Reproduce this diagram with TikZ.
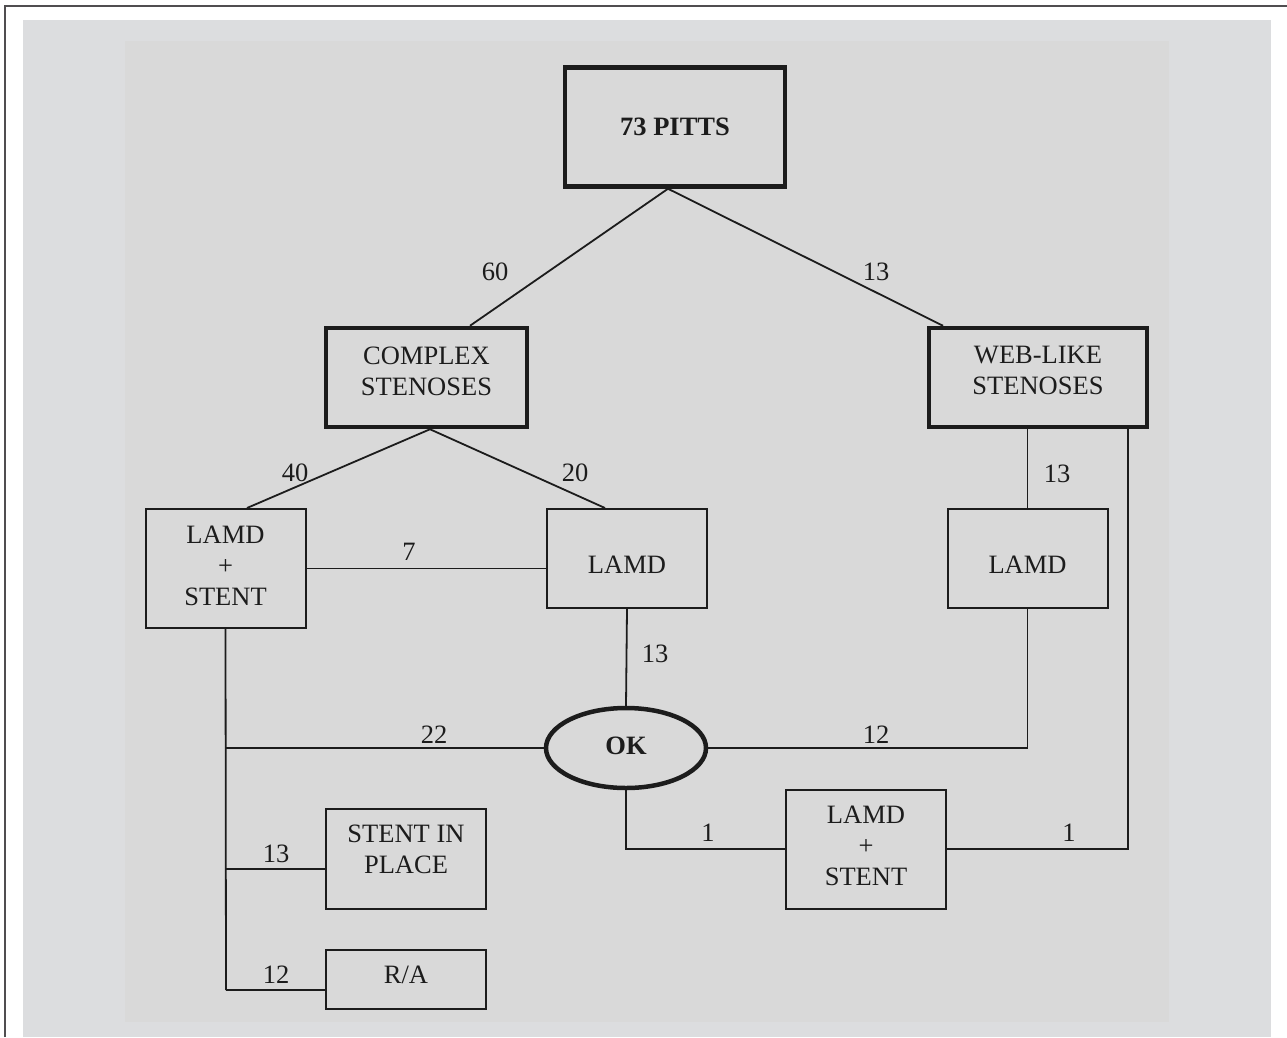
\documentclass[tikz,border=0pt]{standalone}
\usepackage{fontspec}
\setmainfont{Liberation Serif}
\usetikzlibrary{shapes.geometric,calc}
\definecolor{bgout}{RGB}{220,221,223}
\definecolor{bgin}{RGB}{217,217,217}
\definecolor{ink}{RGB}{28,28,28}
\definecolor{framec}{RGB}{80,78,80}
\begin{document}
\begin{tikzpicture}[x=1pt,y=-1pt,
  every node/.style={font=\fontsize{26.5}{31}\selectfont, text=ink},
  plainbox/.style={draw=ink, line width=2pt, inner sep=0pt, align=center, minimum width=160pt},
  heavybox/.style={draw=ink, line width=4.5pt, inner sep=0pt, align=center},
  boxtext/.style={inner sep=0pt, align=center},
  conn/.style={draw=ink, line width=1.8pt},
  lbl/.style={inner sep=0pt}]
\useasboundingbox (0,0) rectangle (1287,1037);
\fill[white] (0,0) rectangle (1287,1037);
\fill[bgout] (23,20) rectangle (1271,1037);
\fill[bgin] (125,41) rectangle (1169,1022);
\draw[line width=2pt, framec] (4.5,1037) -- (4.5,6) -- (1287,6);

% nodes
\node[heavybox, minimum width=220pt, minimum height=119pt] (pitts) at (675,127) {\textbf{73 PITTS}};
\node[heavybox, minimum width=201pt, minimum height=99pt,
  label={[boxtext, yshift=6.5pt]center:{COMPLEX\\STENOSES}}] (complex) at (426.5,377.5) {};
\node[heavybox, minimum width=218pt, minimum height=99pt,
  label={[boxtext, yshift=7pt]center:{WEB-LIKE\\STENOSES}}] (web) at (1038,377.5) {};
\node[plainbox, minimum height=119pt,
  label={[boxtext, yshift=3pt]center:{LAMD\\+\\STENT}}] (ls1) at (225.5,568.5) {};
\node[plainbox, minimum height=99pt,
  label={[boxtext, yshift=-6.5pt]center:LAMD}] (lamd1) at (627,558.5) {};
\node[plainbox, minimum height=99pt,
  label={[boxtext, yshift=-6.5pt]center:LAMD}] (lamd2) at (1027.5,558.5) {};
\node[draw=ink, line width=4.5pt, ellipse, inner sep=0pt, minimum width=160pt, minimum height=80pt,
  label={[boxtext, yshift=2.5pt]center:\textbf{OK}}] (ok) at (626,748) {};
\node[plainbox, minimum height=119pt,
  label={[boxtext, yshift=3.5pt]center:{LAMD\\+\\STENT}}] (ls2) at (866,849) {};
\node[plainbox, minimum height=100pt,
  label={[boxtext, yshift=9.5pt]center:{STENT IN\\PLACE}}] (sip) at (406,859) {};
\node[plainbox, minimum height=59pt,
  label={[boxtext, yshift=4.5pt]center:R/A}] (ra) at (406,979.5) {};

% junction coordinates
\coordinate (ptop) at ([xshift=-7pt]pitts.south);
\coordinate (cbot) at ([xshift=3.5pt]complex.south);
\coordinate (j1) at (ls1.south |- ok.west);
\coordinate (j2) at (226,869);
\coordinate (j3) at (226,990);
\coordinate (wr) at (1128,428);

% connectors
\draw[conn] (ptop) -- ([xshift=43.5pt]complex.north);
\draw[conn] (ptop) -- ([xshift=-95pt]web.north);
\draw[conn] (cbot) -- ([xshift=21.5pt]ls1.north);
\draw[conn] (cbot) -- ([xshift=-22pt]lamd1.north);
\draw[conn] (lamd2.north |- web.south) -- (lamd2.north);
\draw[conn] (ls1.east) -- (ls1.east -| lamd1.west);
\draw[conn] (lamd1.south) -- (ok.north);
\draw[conn] (ls1.south) -- (j3);
\draw[conn] (j1) -- (ok.west);
\draw[conn] (j2) -- (j2 -| sip.west);
\draw[conn] (j3) -- (j3 -| ra.west);
\draw[conn] (lamd2.south) |- (ok.east);
\draw[conn] (ok.south) |- (ls2.west);
\draw[conn] (wr) |- (ls2.east);

% labels
\node[lbl] (l60) at (495,272) {60};
\node[lbl] (l13a) at (876,272) {13};
\node[lbl] (l40) at (295,473) {40};
\node[lbl] (l20) at (575,473) {20};
\node[lbl] (l13b) at (1057,474) {13};
\node[lbl] (l7) at (409,552) {7};
\node[lbl] (l13c) at (655,654) {13};
\node[lbl] (l22) at (434,735) {22};
\node[lbl] (l12a) at (876,735) {12};
\node[lbl] (l1a) at (708,833) {1};
\node[lbl] (l1b) at (1069,833) {1};
\node[lbl] (l13d) at (276,854) {13};
\node[lbl] (l12b) at (276,975) {12};
\end{tikzpicture}
\end{document}
